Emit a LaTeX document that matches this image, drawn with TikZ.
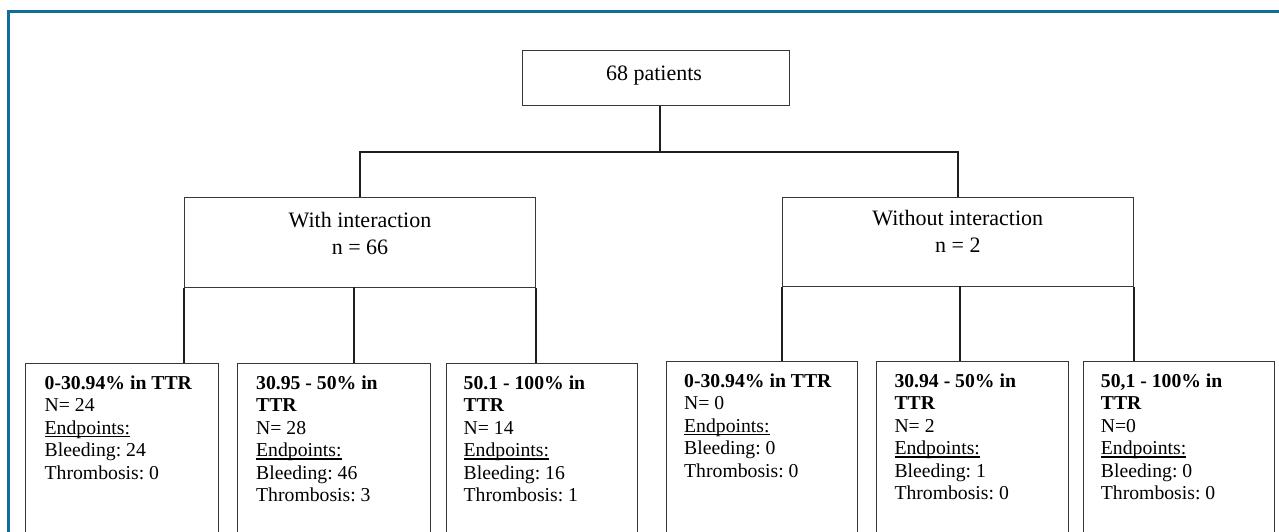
\documentclass[tikz,border=0pt]{standalone}
\usepackage{fontspec}
\setmainfont{Liberation Serif}
\frenchspacing
\definecolor{framecol}{RGB}{16,110,152}
\newlength\ulwd
\newcommand{\myul}[1]{\settowidth{\ulwd}{#1}\makebox[0pt][l]{\vrule height -1.9pt depth 3.1pt width \ulwd}#1}
\newcommand{\lowtxt}[1]{\parbox[t]{175pt}{\raggedright\frenchspacing #1}}
\begin{document}
\begin{tikzpicture}[x=1pt,y=-1pt,
  box/.style={draw=black!78, line width=1.3pt, anchor=north west, inner sep=0pt},
  conn/.style={draw=black!88, line width=1.8pt},
  big/.style={font=\fontsize{22}{26.3}\selectfont, inner sep=0pt, anchor=base},
  small/.style={font=\fontsize{19.7}{22.5}\selectfont, inner sep=0pt, anchor=base west}]
\useasboundingbox (0,0) rectangle (1279,531);
\clip (0,0) rectangle (1279,531);
\fill[white] (0,0) rectangle (1279,531);
\draw[framecol, line width=2.7pt] (8.7,560) -- (8.7,11.3) -- (1300,11.3);

% boxes
\node[box, minimum width=267pt, minimum height=55pt] (top) at (522,50) {};
\node[box, minimum width=351pt, minimum height=90pt] (midL) at (184,197) {};
\node[box, minimum width=351pt, minimum height=89pt] (midR) at (782,197) {};
\node[box, minimum width=193pt, minimum height=200pt] (b1) at (25,363) {};
\node[box, minimum width=193pt, minimum height=200pt] (b2) at (237,363) {};
\node[box, minimum width=191pt, minimum height=200pt] (b3) at (446,363) {};
\node[box, minimum width=191pt, minimum height=200pt] (b4) at (666,361) {};
\node[box, minimum width=192pt, minimum height=200pt] (b5) at (876,361) {};
\node[box, minimum width=191pt, minimum height=200pt] (b6) at (1083,361) {};

% texts
\node[big] (t0) at (654,80) {68 patients};
\node[big] (tL) at (360,227.7) {\parbox[t]{340pt}{\centering With interaction\\ n = 66}};
\node[big] (tR) at (957.8,225.7) {\parbox[t]{340pt}{\centering Without interaction\\ n = 2}};

\node[small] (t1) at (44.5,389) {\lowtxt{\textbf{0-30.94\% in TTR}\\ N= 24\\ \myul{Endpoints:}\\ Bleeding: 24\\ Thrombosis: 0}};
\node[small] (t2) at (256,389) {\lowtxt{\textbf{30.95 - 50\% in}\\ \textbf{TTR}\\ N= 28\\ \myul{Endpoints:}\\ Bleeding: 46\\ Thrombosis: 3}};
\node[small] (t3) at (463.5,389) {\lowtxt{\textbf{50.1 - 100\% in}\\ \textbf{TTR}\\ N= 14\\ \myul{Endpoints:}\\ Bleeding: 16\\ Thrombosis: 1}};
\node[small] (t4) at (684,387) {\lowtxt{\textbf{0-30.94\% in TTR}\\ N= 0\\ \myul{Endpoints:}\\ Bleeding: 0\\ Thrombosis: 0}};
\node[small] (t5) at (894.3,387) {\lowtxt{\textbf{30.94 - 50\% in}\\ \textbf{TTR}\\ N= 2\\ \myul{Endpoints:}\\ Bleeding: 1\\ Thrombosis: 0}};
\node[small] (t6) at (1100.7,387) {\lowtxt{\textbf{50,1 - 100\% in}\\ \textbf{TTR}\\ N=0\\ \myul{Endpoints:}\\ Bleeding: 0\\ Thrombosis: 0}};

% connectors
\coordinate (j) at (660,152);
\draw[conn] (top.south -| j) -- (j);
\draw[conn] (midL.north) |- (j) -| (midR.north);

\coordinate (l2) at (354,287);
\coordinate (r2) at (960,286);
\draw[conn] (midL.south west) -- (midL.south west |- b1.north);
\draw[conn] (l2) -- (l2 |- b2.north);
\draw[conn] (midL.south east) -- (midL.south east |- b3.north);
\draw[conn] (midR.south west) -- (midR.south west |- b4.north);
\draw[conn] (r2) -- (r2 |- b5.north);
\draw[conn] (midR.south east) -- (midR.south east |- b6.north);
\end{tikzpicture}
\end{document}
